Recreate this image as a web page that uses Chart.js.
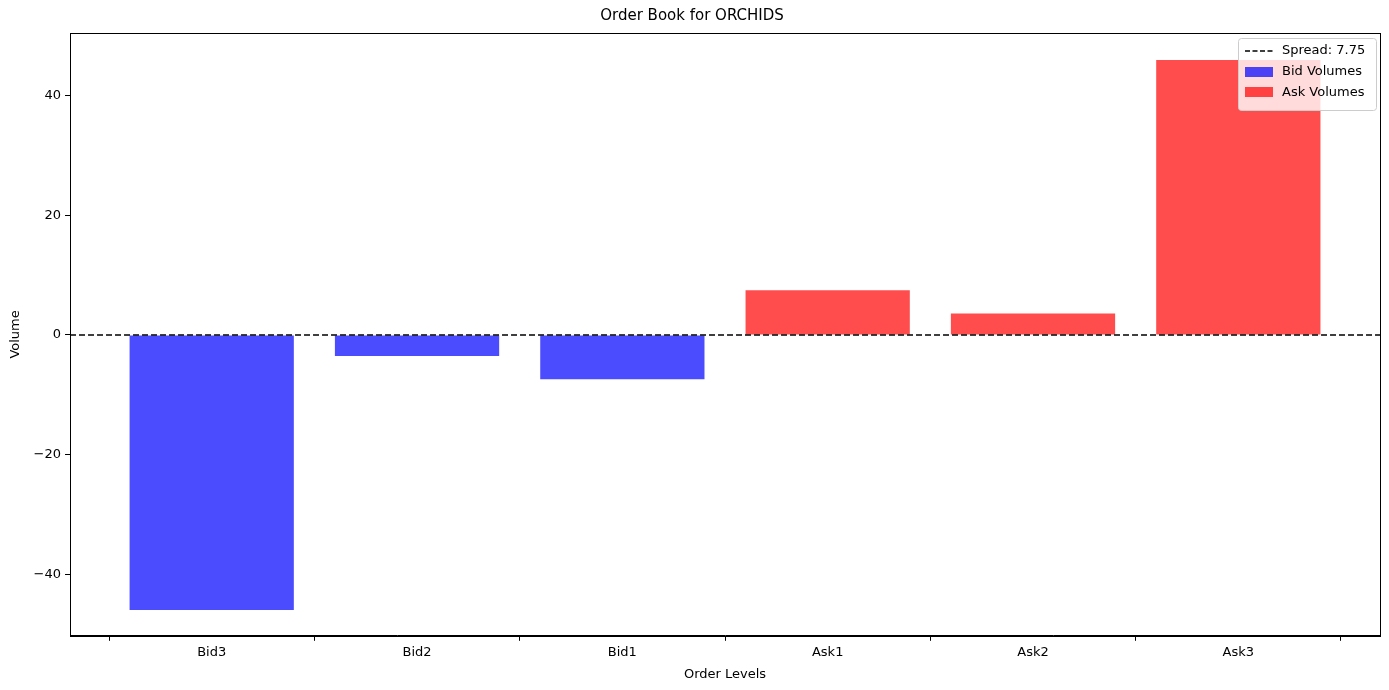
<!DOCTYPE html>
<html><head><meta charset="utf-8">
<script src="https://cdn.jsdelivr.net/npm/chart.js@4"></script>
<style>html,body{margin:0;padding:0;background:#fff}</style>
</head><body>
<canvas id="c" width="1389" height="690"></canvas>
<script>
const categories = ["Bid3","Bid2","Bid1","Ask1","Ask2","Ask3"];
const bidVolumes = [-46, -3.5, -7.4];
const askVolumes = [7.5, 3.6, 46];
const spread = 7.75;
const yTicks = [-40,-20,0,20,40];

const F = "'DejaVu Sans', sans-serif";
Chart.defaults.font.family = F;
Chart.defaults.font.size = 13;
Chart.defaults.color = '#000';

const frame = {
  id:'frame',
  afterDraw(ch){
    const a = ch.chartArea, g = ch.ctx;
    g.save();
    g.strokeStyle='#000'; g.lineWidth=1;
    g.strokeRect(Math.round(a.left)+0.5, Math.round(a.top)+0.5, Math.round(a.right-a.left), Math.round(a.bottom-a.top));
    // legend
    const w=138,h=72,x=a.right-w-4,y=a.top+5;
    g.fillStyle='rgba(255,255,255,0.8)'; g.strokeStyle='#ccc';
    g.beginPath(); g.roundRect(x+0.5,y+0.5,w,h,3); g.fill(); g.stroke();
    g.font="13px "+F; g.textBaseline='middle'; g.fillStyle='#000';
    g.strokeStyle='#000'; g.lineWidth=1.5; g.setLineDash([5,2.5]);
    g.beginPath(); g.moveTo(x+7,y+13); g.lineTo(x+35,y+13); g.stroke(); g.setLineDash([]);
    g.fillText('Spread: '+spread, x+44, y+13);
    g.fillStyle='rgba(0,0,255,0.7)'; g.fillRect(x+7,y+29,28,10);
    g.fillStyle='#000'; g.fillText('Bid Volumes', x+44, y+34);
    g.fillStyle='rgba(255,0,0,0.7)'; g.fillRect(x+7,y+49,28,10);
    g.fillStyle='#000'; g.fillText('Ask Volumes', x+44, y+55);
    g.restore();
  }
};

new Chart(document.getElementById('c'), {
  type:'bar',
  data:{datasets:[
    {type:'line', label:'Spread', data:[{x:-0.69,y:0},{x:5.69,y:0}], borderColor:'#000', borderWidth:1.6, borderDash:[6,3], pointRadius:0, order:0},
    {label:'Bid Volumes', data:bidVolumes.map((v,i)=>({x:i,y:v})), backgroundColor:'rgba(0,0,255,0.7)', grouped:false, categoryPercentage:1, barPercentage:0.8, order:1},
    {label:'Ask Volumes', data:askVolumes.map((v,i)=>({x:i+3,y:v})), backgroundColor:'rgba(255,0,0,0.7)', grouped:false, categoryPercentage:1, barPercentage:0.8, order:1}
  ]},
  options:{
    responsive:false, animation:false,
    layout:{padding:{left:4,right:9,top:0,bottom:4}},
    plugins:{legend:{display:false}, tooltip:{enabled:false},
      title:{display:true,text:'Order Book for ORCHIDS',font:{size:15,weight:'normal'},padding:{top:7,bottom:8}}},
    scales:{
      x:{type:'linear',min:-0.69,max:5.69,offset:false,
        afterBuildTicks(ax){ax.ticks=categories.map((c,i)=>({value:i}));},
        ticks:{callback:(v)=>categories[v],autoSkip:false,maxRotation:0,padding:4},
        grid:{drawOnChartArea:false,tickLength:5,color:'#000'},border:{color:'#000'},
        title:{display:true,text:'Order Levels',padding:{top:2}}},
      y:{min:-50.3,max:50.5,
        afterBuildTicks(ax){ax.ticks=yTicks.map(v=>({value:v}));},
        ticks:{callback:(v)=>v<0?'\u2212'+(-v):''+v,padding:4},
        grid:{drawOnChartArea:false,tickLength:5,color:'#000'},border:{color:'#000'},
        title:{display:true,text:'Volume',padding:{bottom:6}}}
    }
  },
  plugins:[frame]
});
</script>
</body></html>
